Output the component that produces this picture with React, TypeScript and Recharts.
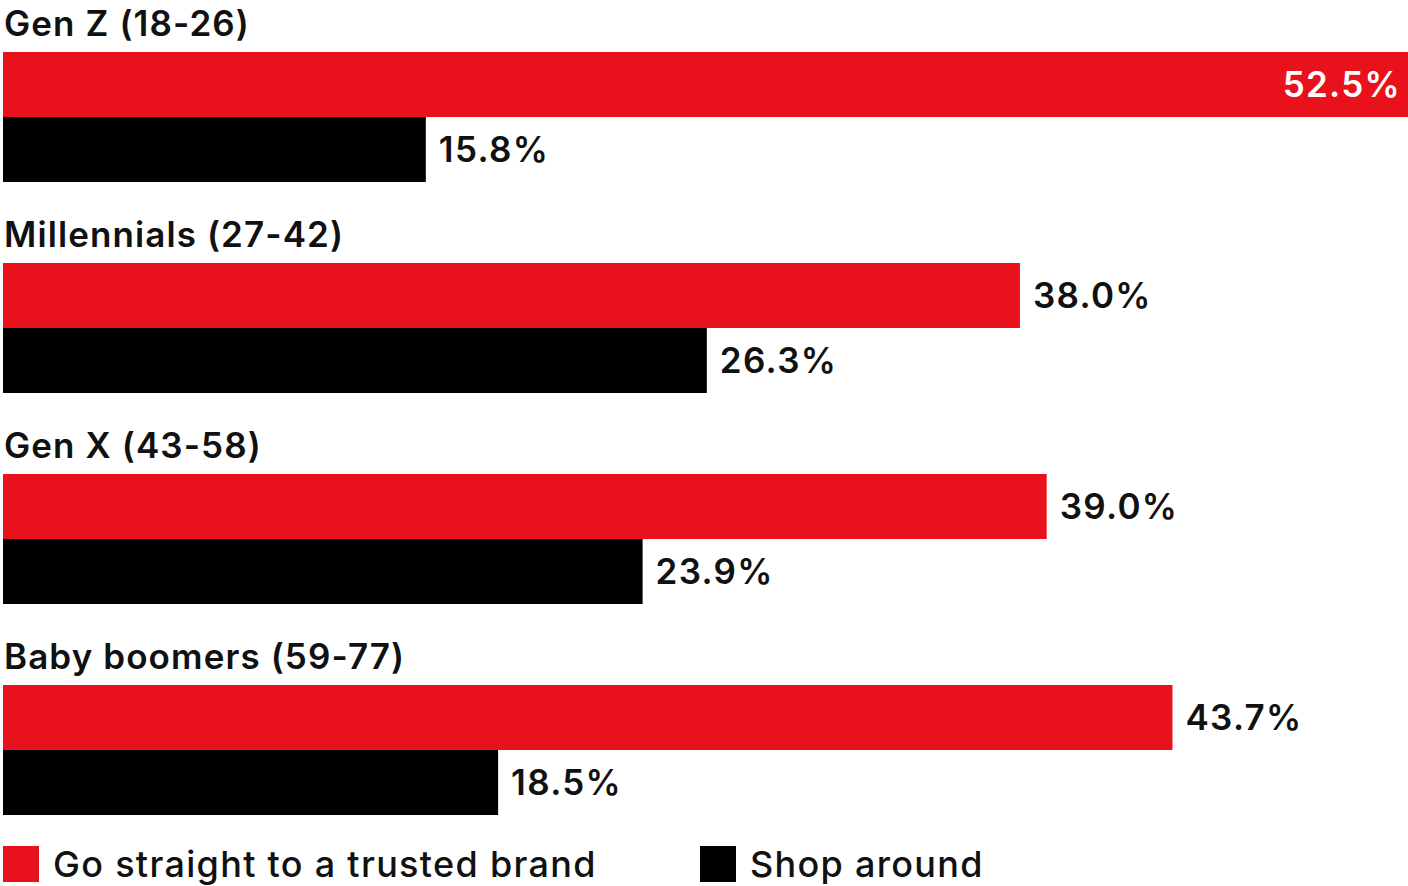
import React from "react";
import { BarChart, Bar, XAxis, YAxis, LabelList } from "recharts";

const categories = ["Gen Z (18-26)", "Millennials (27-42)", "Gen X (43-58)", "Baby boomers (59-77)"];
const trustedBrand = [52.5, 38.0, 39.0, 43.7];
const shopAround = [15.8, 26.3, 23.9, 18.5];
const seriesNames = ["Go straight to a trusted brand", "Shop around"];

const RED = "#E8111C";
const BLACK = "#000000";
const FONT = "Inter, 'Noto Sans', sans-serif";

const data = categories.map((name, i) => ({ name, trusted: trustedBrand[i], shop: shopAround[i] }));

const CategoryLabel = (props: any) => {
  const { x, y, value } = props;
  return (
    <text x={x + 1} y={y - 16} fill="#111" fontSize={35} fontWeight={600} fontFamily={FONT} letterSpacing={1.1}>
      {value}
    </text>
  );
};

const ValueLabel = (props: any) => {
  const { x, y, width, height, value } = props;
  const inside = value > 50;
  const tx = inside ? x + width - 7 : x + width + 13;
  return (
    <text
      x={tx}
      y={y + height / 2 - 1}
      dominantBaseline="central"
      textAnchor={inside ? "end" : "start"}
      fill={inside ? "#fff" : "#111"}
      fontSize={35}
      fontWeight={600}
      fontFamily={FONT}
      letterSpacing={1.3}
    >
      {value.toFixed(1)}%
    </text>
  );
};

export default function App() {
  return (
    <div style={{ position: "absolute", left: 0, top: 0, width: 1408, height: 886, background: "#fff" }}>
      <BarChart
        width={1408}
        height={886}
        data={data}
        layout="vertical"
        margin={{ top: 11, right: 0, bottom: 31, left: 3 }}
        barGap={0}
      >
        <XAxis type="number" domain={[0, 52.5]} hide />
        <YAxis type="category" dataKey="name" hide />
        <Bar dataKey="trusted" fill={RED} barSize={65} isAnimationActive={false}>
          <LabelList dataKey="name" content={CategoryLabel} />
          <LabelList dataKey="trusted" content={ValueLabel} />
        </Bar>
        <Bar dataKey="shop" fill={BLACK} barSize={65} isAnimationActive={false}>
          <LabelList dataKey="shop" content={ValueLabel} />
        </Bar>
      </BarChart>
      <div style={{ position: "absolute", left: 3, top: 846, display: "flex", alignItems: "center", fontFamily: FONT, fontSize: 36, fontWeight: 500, color: "#111", letterSpacing: 1.3 }}>
        <div style={{ width: 36, height: 36, background: RED }} />
        <span style={{ marginLeft: 14, lineHeight: "36px", whiteSpace: "nowrap" }}>{seriesNames[0]}</span>
        <div style={{ width: 36, height: 36, background: BLACK, position: "absolute", left: 697 }} />
        <span style={{ position: "absolute", left: 747, lineHeight: "36px", whiteSpace: "nowrap" }}>{seriesNames[1]}</span>
      </div>
    </div>
  );
}
